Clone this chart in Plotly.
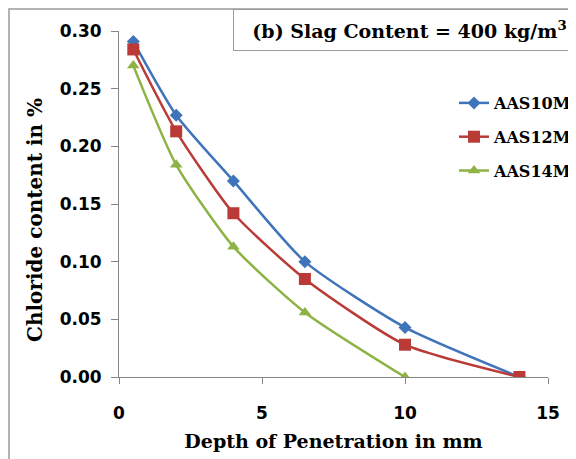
import plotly.graph_objects as go

depth_10 = [0.5, 2, 4, 6.5, 10, 14]
aas10m = [0.291, 0.227, 0.170, 0.100, 0.043, 0.0]
depth_12 = [0.5, 2, 4, 6.5, 10, 14]
aas12m = [0.284, 0.213, 0.142, 0.085, 0.028, 0.0]
depth_14 = [0.5, 2, 4, 6.5, 10]
aas14m = [0.270, 0.184, 0.113, 0.056, 0.0]

series = [
    ("AAS10M", depth_10, aas10m, "#3F74BA", "diamond", 10),
    ("AAS12M", depth_12, aas12m, "#B93A37", "square", 12),
    ("AAS14M", depth_14, aas14m, "#8DB345", "triangle-up", 11),
]

serif = "'DejaVu Serif', serif"
sans = "'DejaVu Sans', sans-serif"

W, H = 568, 451
L, R, T, B = 111, 28, 23, 82
PW, PH = W - L - R, H - T - B

fig = go.Figure()
for i, (name, x, y, col, sym, sz) in enumerate(series):
    fig.add_trace(go.Scatter(
        x=x, y=y, name=name, mode="lines+markers",
        line=dict(color=col, width=2.5, shape="spline", smoothing=0.6),
        marker=dict(symbol=sym, size=sz, color=col),
        legendgroup=f"g{i}",
    ))

fig.update_layout(
    width=W, height=H,
    margin=dict(l=L, r=R, t=T, b=B, autoexpand=False),
    paper_bgcolor="white", plot_bgcolor="white",
    showlegend=True,
    legend=dict(
        x=(454 - 8 - L) / PW, xanchor="left", y=1 - (86 - 8 - T) / PH, yanchor="top",
        font=dict(family=serif, size=16, color="black", weight="bold"),
        itemwidth=30, tracegroupgap=10, traceorder="grouped",
        bgcolor="rgba(0,0,0,0)",
    ),
    xaxis=dict(
        range=[0, 15], tickvals=[0, 5, 10, 15], showgrid=False, zeroline=False,
        showline=True, linecolor="#868686", linewidth=1, automargin=False,
        ticks="outside", ticklen=6, tickcolor="#868686", ticklabelstandoff=15,
        tickfont=dict(family=sans, size=17, color="black", weight="bold"),
        title=dict(text="Depth of Penetration in mm",
                   font=dict(family=serif, size=19, color="black", weight="bold"),
                   standoff=12),
    ),
    yaxis=dict(
        range=[0, 0.30], tickvals=[0, 0.05, 0.10, 0.15, 0.20, 0.25, 0.30],
        tickformat=".2f", showgrid=False, zeroline=False,
        showline=True, linecolor="#868686", linewidth=1, automargin=False,
        ticks="outside", ticklen=7, tickcolor="#868686", ticklabelstandoff=6,
        tickfont=dict(family=sans, size=17, color="black", weight="bold"),
    ),
)

# y axis title placed like the reference (slightly below plot centre)
fig.add_annotation(
    xref="paper", yref="paper",
    x=(35 - 8 - L) / PW, y=1 - (220 - 8 - T) / PH,
    xanchor="center", yanchor="middle", textangle=-90,
    text="Chloride content in %", showarrow=False,
    font=dict(family=serif, size=20, color="black", weight="bold"),
)

# outer chart border (left and top edges visible)
fig.add_shape(type="rect", xref="paper", yref="paper",
              x0=-(L - 1) / PW, x1=1.3, y0=-0.4, y1=1 + (T - 1) / PH,
              line=dict(color="#9a9a9a", width=1.5), layer="below")
# title box
fig.add_annotation(
    xref="paper", yref="paper", x=(233 - 8 - L) / PW, y=1 + (T - 1) / PH,
    xanchor="left", yanchor="top",
    text="(b) Slag Content = 400 kg/m<sup>3</sup>", showarrow=False,
    font=dict(family=serif, size=19, color="black", weight="bold"),
    bordercolor="#9a9a9a", borderwidth=1, borderpad=8, bgcolor="white",
    width=335,
)

fig.write_html("out.html")
